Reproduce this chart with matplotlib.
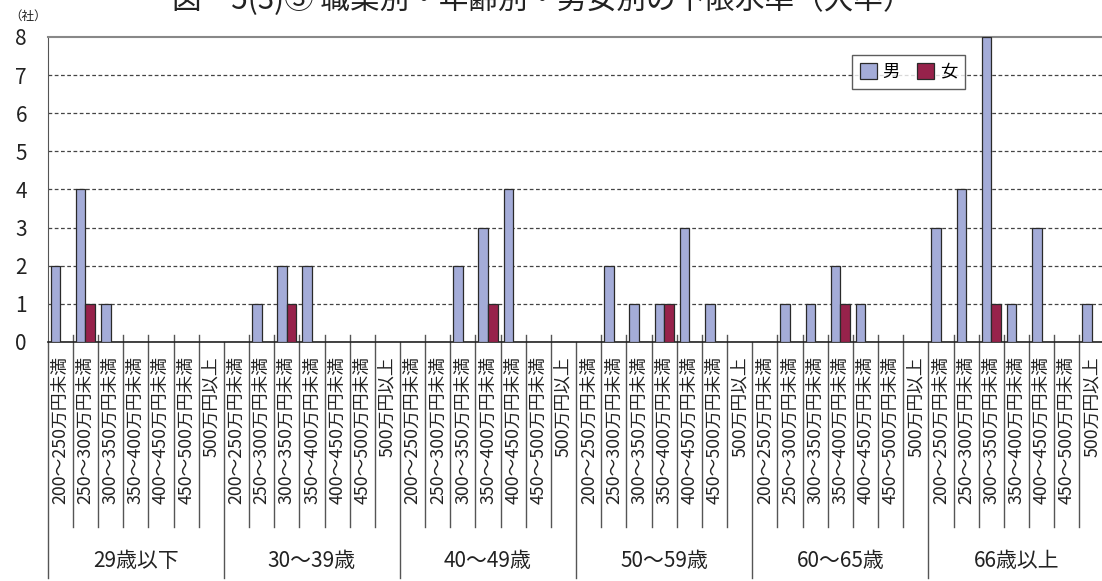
import matplotlib
matplotlib.use('Agg')
import matplotlib.pyplot as plt
import matplotlib.transforms as mtransforms
import numpy as np

plt.rcParams['font.family'] = ['Noto Sans CJK JP', 'DejaVu Sans']

# データ
age_groups = ['29歳以下', '30〜39歳', '40〜49歳', '50〜59歳', '60〜65歳', '66歳以上']
salary_bins = ['200〜250万円未満', '250〜300万円未満', '300〜350万円未満', '350〜400万円未満',
               '400〜450万円未満', '450〜500万円未満', '500万円以上']

male = [2, 4, 1, 0, 0, 0, 0,
        0, 1, 2, 2, 0, 0, 0,
        0, 0, 2, 3, 4, 0, 0,
        0, 2, 1, 1, 3, 1, 0,
        0, 1, 1, 2, 1, 0, 0,
        3, 4, 8, 1, 3, 0, 1]
female = [0, 1, 0, 0, 0, 0, 0,
          0, 0, 1, 0, 0, 0, 0,
          0, 0, 0, 1, 0, 0, 0,
          0, 0, 0, 1, 0, 0, 0,
          0, 0, 0, 1, 0, 0, 0,
          0, 0, 1, 0, 0, 0, 0]

male_color = '#A4ACD8'
female_color = '#97224B'

n_bins = len(salary_bins)
n = len(male)
x = np.arange(n)

fig = plt.figure(figsize=(11.02, 5.81), dpi=100)
ax = fig.add_axes([0.0433, 0.4114, 0.959, 0.525])

w = 0.38
ax.bar(x - w / 2, male, width=w, color=male_color, edgecolor='#2a2a2a', linewidth=0.9, label='男', zorder=3)
ax.bar(x + w / 2, female, width=w, color=female_color, edgecolor='#2a2a2a', linewidth=0.9, label='女', zorder=3)

ax.set_xlim(-0.5, n - 0.5)
ax.set_ylim(0, 8)
ax.set_yticks(range(0, 9))
ax.tick_params(axis='y', length=0, pad=15, labelsize=15, labelcolor='#222222')
ax.tick_params(axis='x', length=0, labelbottom=False)

# 目盛線（破線）
for v in range(1, 8):
    ax.axhline(v, color='#444444', linestyle=(0, (3, 2)), linewidth=0.9, zorder=1)

ax.spines['top'].set_color('#888888')
ax.spines['top'].set_linewidth(1.5)
ax.spines['right'].set_visible(False)
ax.spines['left'].set_color('#555555')
ax.spines['bottom'].set_color('#222222')
ax.spines['bottom'].set_linewidth(1.2)

trans = mtransforms.blended_transform_factory(ax.transData, ax.transAxes)

# 区切り線
for b in range(0, n + 1):
    xb = b - 0.5
    if b % n_bins == 0:
        ax.plot([xb, xb], [0.0, -0.774], transform=trans, color='#555555', linewidth=1.0, clip_on=False)
    else:
        ax.plot([xb, xb], [0.023, -0.607], transform=trans, color='#555555', linewidth=1.0, clip_on=False)

# 軸ラベル
for i in range(n):
    ax.text(i, -0.047, salary_bins[i % n_bins], transform=trans, rotation=90,
            ha='center', va='top', fontsize=12.8, color='#222222')

for g, name in enumerate(age_groups):
    xc = g * n_bins + (n_bins - 1) / 2
    ax.text(xc, -0.717, name, transform=trans, ha='center', va='center', fontsize=15, color='#222222')

fig.text(0.008, 0.972, '（社）', fontsize=9, color='#222222', ha='left', va='center')

fig.text(0.492, 1.0, '図　5(3)③ 職業別・年齢別・男女別の下限水準（大卒）', fontsize=21.3,
         ha='center', va='center', color='#222222')

leg = ax.legend(loc='upper left', bbox_to_anchor=(0.761, 0.941), borderaxespad=0, ncol=2, fontsize=12.5,
                frameon=True, fancybox=False, edgecolor='#333333', handlelength=1.0,
                handleheight=1.0, columnspacing=1.0, handletextpad=0.3, borderpad=0.45)
leg.get_frame().set_linewidth(1.0)

fig.savefig('out.png', dpi=100)
